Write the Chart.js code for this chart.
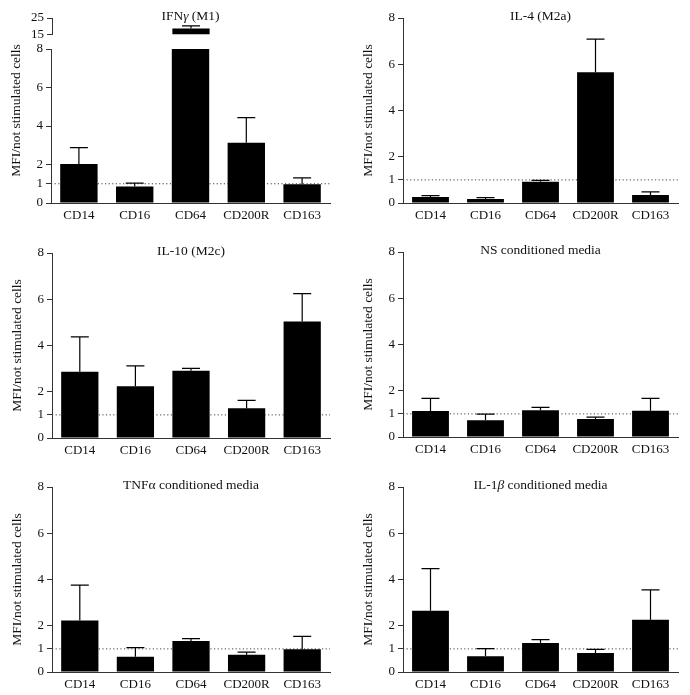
<!DOCTYPE html>
<html>
<head>
<meta charset="utf-8">
<script src="https://cdn.jsdelivr.net/npm/chart.js@4.4.0/dist/chart.umd.min.js"></script>
<style>
  body { margin: 0; background: #fff; }
  #wrap { position: relative; width: 690px; height: 695px; }
  #wrap canvas { position: absolute; }
</style>
</head>
<body>
<div id="wrap"></div>
<script>
const CATEGORIES = ["CD14", "CD16", "CD64", "CD200R", "CD163"];
const Y_TICKS = [0, 1, 2, 4, 6, 8];
const BREAK_TICKS = [15, 25];
const REF_LEVEL = 1;
const Y_LABEL = "MFI/not stimulated cells";

const TITLES = [
  "IFNγ (M1)",
  "IL-4 (M2a)",
  "IL-10 (M2c)",
  "NS conditioned media",
  "TNFα conditioned media",
  "IL-1β conditioned media"
];

// mean and upper error (SEM) per marker
const IFNG_MEAN = [2.03, 0.86, 18.5, 3.13, 0.98];
const IFNG_SEM = [0.85, 0.17, 1.6, 1.31, 0.33];
const IL4_MEAN = [0.26, 0.17, 0.92, 5.65, 0.35];
const IL4_SEM = [0.06, 0.06, 0.06, 1.44, 0.13];
const IL10_MEAN = [2.86, 2.24, 2.91, 1.29, 5.04];
const IL10_SEM = [1.51, 0.88, 0.1, 0.34, 1.2];
const NS_MEAN = [1.12, 0.72, 1.16, 0.78, 1.13];
const NS_SEM = [0.55, 0.27, 0.12, 0.08, 0.54];
const TNF_MEAN = [2.23, 0.66, 1.34, 0.75, 0.98];
const TNF_SEM = [1.53, 0.39, 0.1, 0.11, 0.56];
const IL1B_MEAN = [2.65, 0.68, 1.25, 0.82, 2.26];
const IL1B_SEM = [1.82, 0.33, 0.15, 0.16, 1.29];

const FONT = '"Liberation Serif", "Times New Roman", serif';
const ITALIC = "γβ";
const wrap = document.getElementById("wrap");

// layout: canvas box, chart area top/bottom, y axis width, right padding
const panels = [
  { title: TITLES[0], mean: IFNG_MEAN, sem: IFNG_SEM, left: 0, top: 0, h: 230, aTop: 49, aBot: 203, yw: 51, right: 15, extraTop: 31 },
  { title: TITLES[1], mean: IL4_MEAN, sem: IL4_SEM, left: 345, top: 0, h: 230, aTop: 18, aBot: 203, yw: 58, right: 12, extraTop: 0 },
  { title: TITLES[2], mean: IL10_MEAN, sem: IL10_SEM, left: 0, top: 230, h: 230, aTop: 23, aBot: 208, yw: 52, right: 15, extraTop: 0 },
  { title: TITLES[3], mean: NS_MEAN, sem: NS_SEM, left: 345, top: 230, h: 230, aTop: 22, aBot: 207, yw: 58, right: 12, extraTop: 0 },
  { title: TITLES[4], mean: TNF_MEAN, sem: TNF_SEM, left: 0, top: 460, h: 235, aTop: 27, aBot: 212, yw: 52, right: 15, extraTop: 0 },
  { title: TITLES[5], mean: IL1B_MEAN, sem: IL1B_SEM, left: 345, top: 460, h: 235, aTop: 27, aBot: 212, yw: 58, right: 12, extraTop: 0 }
];

function makeCanvas(left, top, w, h) {
  const c = document.createElement("canvas");
  c.width = w;
  c.height = h;
  c.style.left = left + "px";
  c.style.top = top + "px";
  wrap.appendChild(c);
  return c;
}

function drawTitle(ctx, text, cx, cy) {
  const parts = [];
  for (const ch of text) {
    const it = ITALIC.includes(ch);
    const last = parts[parts.length - 1];
    if (last && last.it === it) last.t += ch;
    else parts.push({ t: ch, it: it });
  }
  const fontOf = (it) => (it ? "italic " : "") + "13.5px " + FONT;
  let total = 0;
  parts.forEach((p) => {
    ctx.font = fontOf(p.it);
    p.w = ctx.measureText(p.t).width;
    total += p.w;
  });
  let x = cx - total / 2;
  ctx.textAlign = "left";
  ctx.textBaseline = "middle";
  parts.forEach((p) => {
    ctx.font = fontOf(p.it);
    ctx.fillText(p.t, x, cy);
    x += p.w;
  });
}

function decor(p, main) {
  return {
    id: "decor",
    beforeDatasetsDraw(chart) {
      if (!main) return;
      const { ctx, chartArea: a, scales } = chart;
      const py = scales.y.getPixelForValue(REF_LEVEL);
      ctx.save();
      ctx.setLineDash([1.2, 2.4]);
      ctx.strokeStyle = "#444";
      ctx.lineWidth = 1;
      ctx.beginPath();
      ctx.moveTo(a.left, py);
      ctx.lineTo(a.right, py);
      ctx.stroke();
      ctx.restore();
    },
    afterDatasetsDraw(chart) {
      const { ctx, chartArea: a, scales } = chart;
      const meta = chart.getDatasetMeta(0);
      ctx.save();
      ctx.beginPath();
      ctx.rect(a.left, a.top - 1, a.right - a.left, a.bottom - a.top + 1);
      ctx.clip();
      ctx.strokeStyle = "#000";
      ctx.lineWidth = 1.2;
      meta.data.forEach((bar, i) => {
        const yTop = scales.y.getPixelForValue(p.mean[i] + p.sem[i]);
        ctx.beginPath();
        ctx.moveTo(bar.x, bar.y);
        ctx.lineTo(bar.x, yTop);
        ctx.moveTo(bar.x - 9, yTop);
        ctx.lineTo(bar.x + 9, yTop);
        ctx.stroke();
      });
      ctx.restore();
    },
    afterDraw(chart) {
      if (!main) return;
      const { ctx, chartArea: a } = chart;
      ctx.save();
      ctx.fillStyle = "#111";
      drawTitle(ctx, p.title, (a.left + a.right) / 2, a.top - p.extraTop - 2);
      ctx.translate(a.left - 35, (a.top - p.extraTop + a.bottom) / 2);
      ctx.rotate(-Math.PI / 2);
      ctx.font = "13.5px " + FONT;
      ctx.textAlign = "center";
      ctx.textBaseline = "middle";
      ctx.fillText(Y_LABEL, 0, 0);
      ctx.restore();
    }
  };
}

function barChart(canvas, p, cfg) {
  return new Chart(canvas, {
    type: "bar",
    data: {
      labels: CATEGORIES,
      datasets: [{
        data: p.mean,
        backgroundColor: "#000",
        borderWidth: 0,
        barPercentage: 0.67,
        categoryPercentage: 1,
        clip: 0
      }]
    },
    options: {
      responsive: false,
      animation: false,
      devicePixelRatio: 1,
      layout: { padding: cfg.pad },
      plugins: { legend: { display: false }, tooltip: { enabled: false } },
      scales: {
        x: {
          display: cfg.showX,
          offset: true,
          grid: { display: false, drawTicks: false },
          border: { color: "#333", width: 1 },
          ticks: { color: "#111", font: { family: FONT, size: 13 }, padding: 5, maxRotation: 0, autoSkip: false },
          afterFit: (s) => { s.height = cfg.xH; }
        },
        y: {
          min: cfg.min,
          max: cfg.max,
          grid: { drawOnChartArea: false, tickLength: 5, color: "#333" },
          border: { color: "#333", width: 1 },
          ticks: { color: "#111", font: { family: FONT, size: 13 }, padding: 3, autoSkip: false },
          afterBuildTicks: (s) => { s.ticks = cfg.ticks.map((v) => ({ value: v })); },
          afterFit: (s) => { s.width = cfg.yw || p.yw; }
        }
      }
    },
    plugins: [decor(p, cfg.main)]
  });
}

panels.forEach((p) => {
  const c = makeCanvas(p.left, p.top, 345, p.h);
  barChart(c, p, {
    pad: { top: p.aTop, right: p.right, bottom: 0, left: 0 },
    xH: p.h - p.aBot,
    showX: true,
    min: 0,
    max: 8,
    ticks: Y_TICKS,
    main: true
  });
  if (p.extraTop) {
    // broken upper segment of the axis (15 - 25)
    const top = makeCanvas(p.left, p.top, 345, 45);
    barChart(top, p, {
      pad: { top: 18, right: p.right, bottom: 10, left: 0 },
      xH: 0,
      yw: p.yw + 1,
      showX: false,
      min: 15,
      max: 25,
      ticks: BREAK_TICKS,
      main: false
    });
  }
});
</script>
</body>
</html>
